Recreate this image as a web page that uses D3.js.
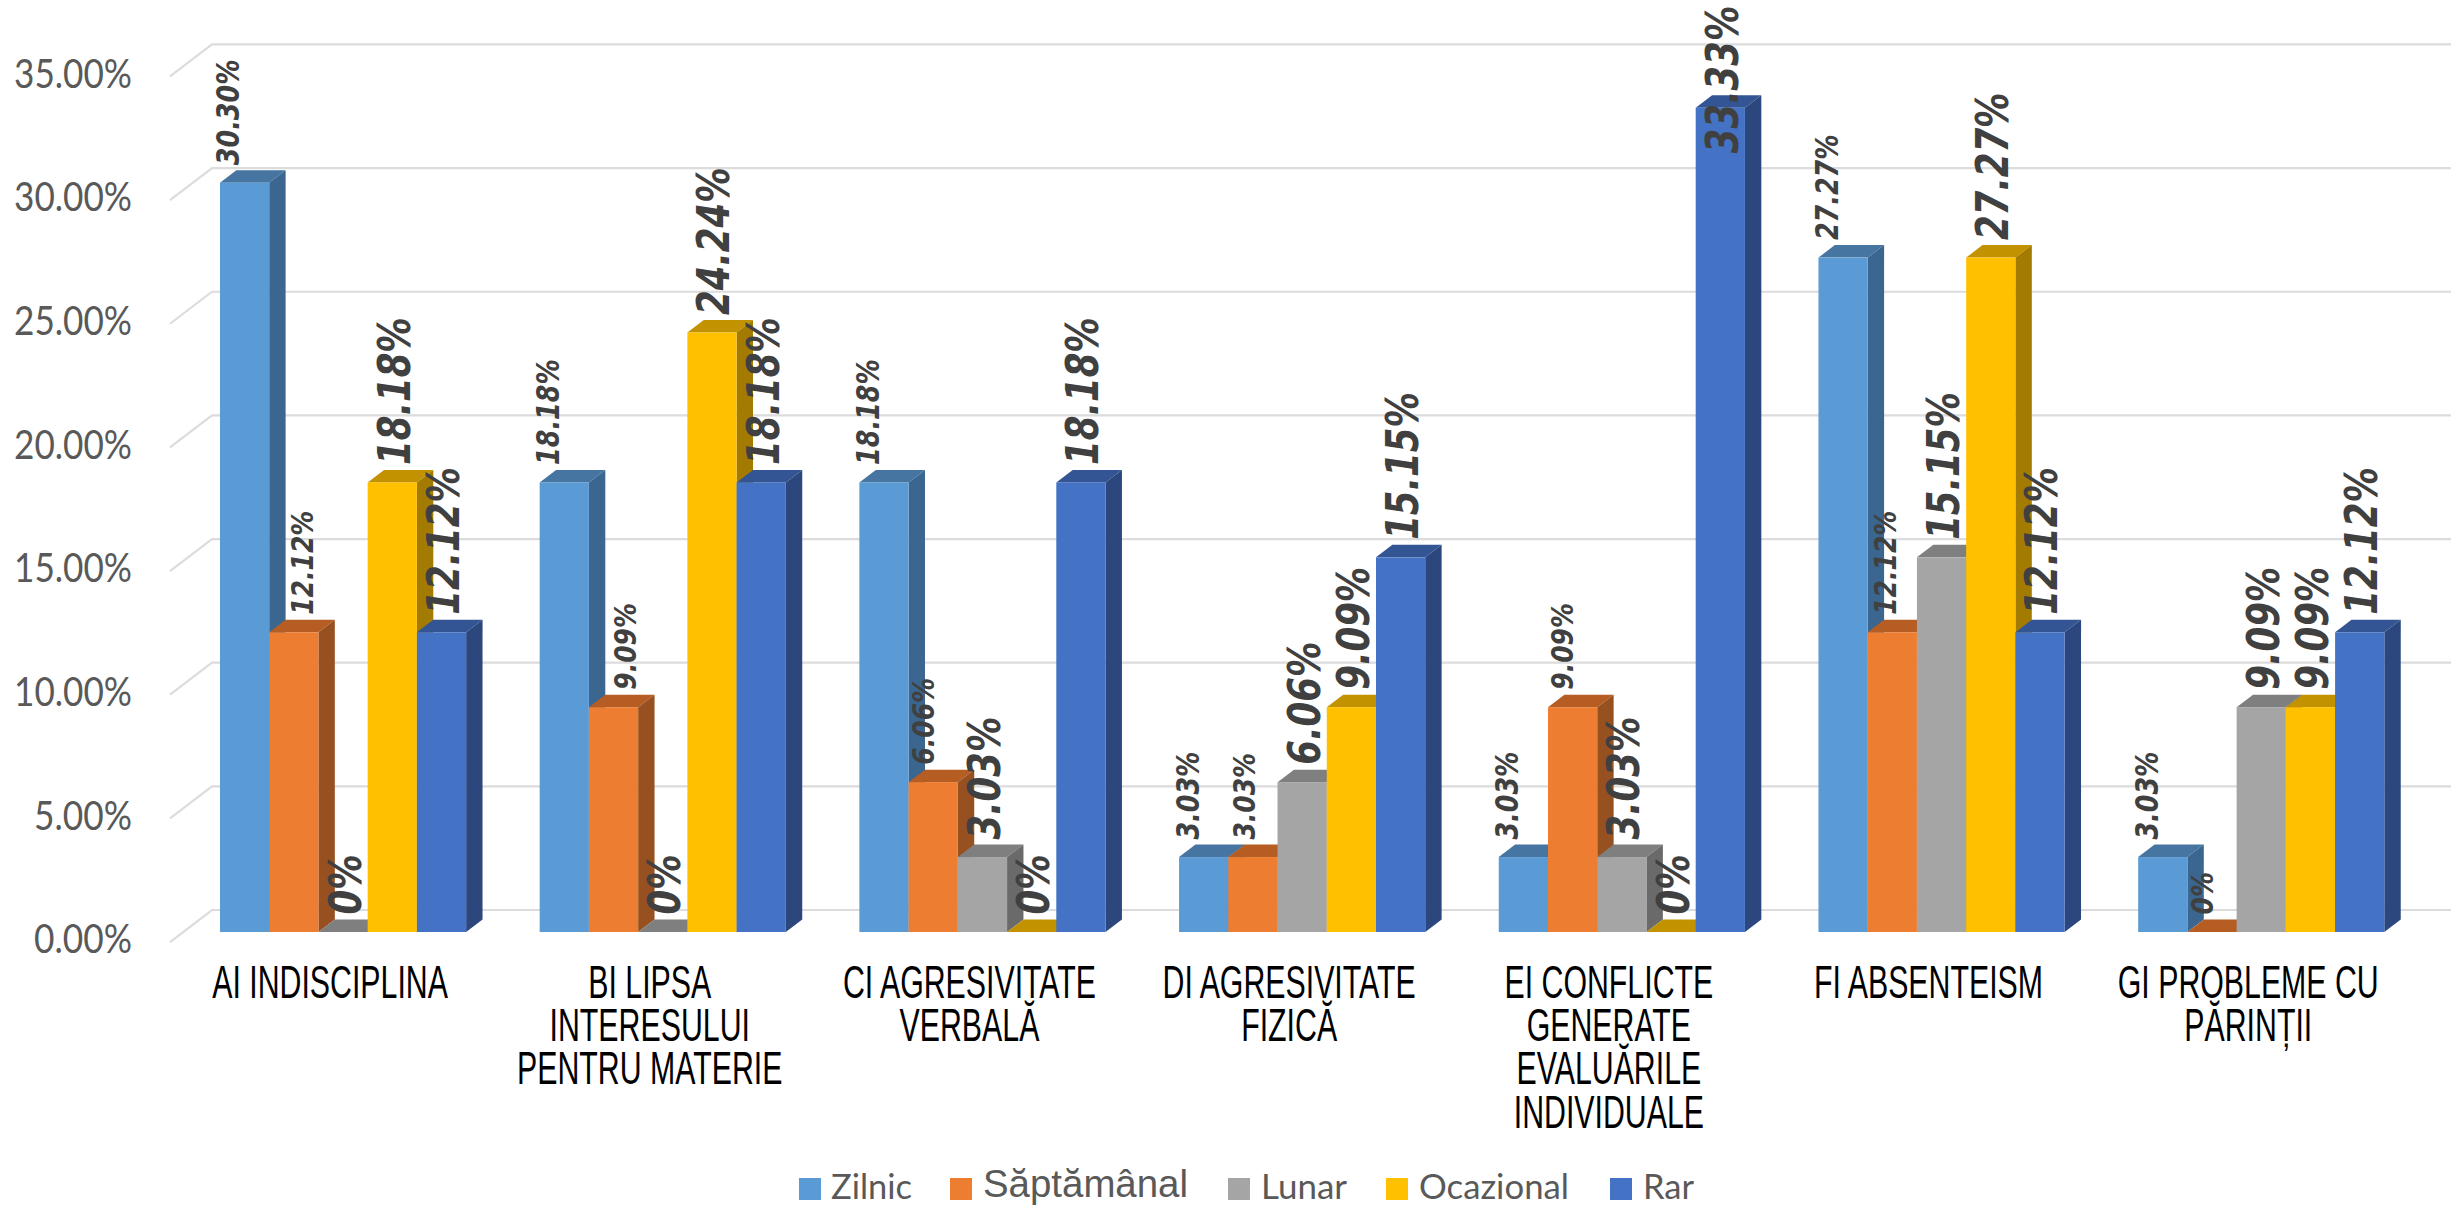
<!DOCTYPE html>
<html><head><meta charset="utf-8">
<script src="https://cdn.jsdelivr.net/npm/d3@7"></script>
<style>
html,body{margin:0;padding:0;background:#fff;overflow:hidden}
svg{display:block}
</style></head><body>
<svg id="c" width="2461" height="1205"></svg>
<script>
// ---- data ----
const categories = ["AI","BI","CI","DI","EI","FI","GI"];
const categoryLines = [
  ["AI INDISCIPLINA"],
  ["BI LIPSA","INTERESULUI","PENTRU MATERIE"],
  ["CI AGRESIVITATE","VERBALĂ"],
  ["DI AGRESIVITATE","FIZICĂ"],
  ["EI CONFLICTE","GENERATE","EVALUĂRILE","INDIVIDUALE"],
  ["FI ABSENTEISM"],
  ["GI PROBLEME CU","PĂRINȚII"]
];
const seriesNames = ["Zilnic","Săptămânal","Lunar","Ocazional","Rar"];
const zilnic     = [30.30,18.18,18.18, 3.03, 3.03,27.27, 3.03];
const saptamanal = [12.12, 9.09, 6.06, 3.03, 9.09,12.12, 0];
const lunar      = [ 0,    0,    3.03, 6.06, 3.03,15.15, 9.09];
const ocazional  = [18.18,24.24, 0,    9.09, 0,   27.27, 9.09];
const rar        = [12.12,18.18,18.18,15.15,33.33,12.12,12.12];
const seriesValues = [zilnic,saptamanal,lunar,ocazional,rar];
const tickValues = [0,5,10,15,20,25,30,35];

// ---- styling ----
const frontColors = ["#5B9BD5","#ED7D31","#A5A5A5","#FFC000","#4472C4"];
const sideColors  = ["#3A6690","#97501F","#6A6A6A","#A37B00","#2B477D"];
const topColors   = ["#4675A1","#B55D23","#7F7F7F","#C29200","#335594"];
const labelSizes  = [25.4,25,35.5,35.5,35.5];
const labelCentre = [8,null,26,26,26];              // label centre relative to bar's left edge
const saptCentre  = [32,36,14,15,14,17,14];         // the hand-moved Săptămânal labels
const labelStretch = 1.24;
const depthX = 16.4, depthY = 12.5;
const backX = 42, backY = 22, tickDropY = 10;

// ---- scales ----
const svg = d3.select("#c");
const y = d3.scaleLinear().domain([0,35]).range([932,932-35*24.73]);
const x0 = d3.scaleBand().domain(categories).range([183.2,2421.1]).paddingInner(0.23).paddingOuter(0.115);
const x1 = d3.scaleBand().domain(seriesNames).range([0,x0.bandwidth()]);
const plotLeft = 170, plotRight = 2451;

// ---- gridlines ----
const grid = svg.append("g").attr("fill","none").attr("stroke","#DCDCDC").attr("stroke-width",2.2);
grid.selectAll("path").data(tickValues).join("path")
  .attr("d",v=>`M${plotLeft},${y(v)+tickDropY}L${plotLeft+backX},${y(v)-backY}L${plotRight},${y(v)-backY}`);

// ---- y axis labels ----
const axis = d3.axisLeft(y).tickValues(tickValues).tickSize(0).tickPadding(0).tickFormat(v=>v.toFixed(2)+"%");
const axisG = svg.append("g").attr("transform","translate(132,8)").call(axis);
axisG.select(".domain").remove();
axisG.selectAll("text")
  .attr("font-family","Lato, 'Open Sans', sans-serif").attr("font-size",40).attr("fill","#595959")
  .attr("textLength",v=>v<10?98:118).attr("lengthAdjust","spacingAndGlyphs");

// ---- bars ----
const bars = svg.append("g");
categories.forEach((c,ci)=>{
  seriesNames.forEach((s,si)=>{
    const v = seriesValues[si][ci];
    const l = x0(c)+x1(s), w = x1.bandwidth(), t = y(v), b = y(0);
    const g = bars.append("g");
    g.append("path").attr("fill",topColors[si])
      .attr("d",`M${l},${t}L${l+depthX},${t-depthY}L${l+w+depthX},${t-depthY}L${l+w},${t}Z`);
    if(v>0){
      g.append("path").attr("fill",sideColors[si])
        .attr("d",`M${l+w},${t}L${l+w+depthX},${t-depthY}L${l+w+depthX},${b-depthY}L${l+w},${b}Z`);
      g.append("rect").attr("x",l).attr("y",t).attr("width",w).attr("height",b-t).attr("fill",frontColors[si]);
    }
  });
});

// ---- value labels ----
const labels = svg.append("g").attr("fill","#404040")
  .attr("font-family","'DejaVu Sans', sans-serif").attr("font-weight","bold").attr("font-style","italic");
categories.forEach((c,ci)=>{
  seriesNames.forEach((s,si)=>{
    const v = seriesValues[si][ci];
    const size = labelSizes[si];
    const centre = si===1 ? saptCentre[ci] : labelCentre[si];
    const bx = x0(c)+x1(s)+centre+0.73*size*labelStretch/2;
    let by = y(v)-depthY-5;
    if(v===33.33) by += 63;   // pushed down to stay inside the picture
    labels.append("text").attr("font-size",size)
      .attr("transform",`translate(${bx},${by}) rotate(-90) scale(1,${labelStretch})`)
      .text(v===0?"0%":v.toFixed(2)+"%");
  });
});

// ---- category labels ----
const catG = svg.append("g").attr("fill","#000").attr("font-family","'Liberation Sans', Arial, sans-serif")
  .attr("font-size",47).attr("text-anchor","middle");
categories.forEach((c,ci)=>{
  const cx = x0(c)+x0.bandwidth()/2-13;
  categoryLines[ci].forEach((line,li)=>{
    catG.append("text").attr("transform",`translate(${cx},${998+li*43.2}) scale(0.645,1)`).text(line);
  });
});

// ---- legend ----
const legendSwatchX = [799,950,1228,1386,1610];
const legendTextX   = [831,983,1261,1419,1643];
const legendTextW   = [81,205,86,150,51];
const legendFonts   = ["Lato","'Liberation Sans'","Lato","Lato","Lato"];
const legendSizes   = [35,38,35,35,35];
const legendBase    = [1199,1197,1199,1199,1199];
const legend = svg.append("g");
seriesNames.forEach((s,i)=>{
  legend.append("rect").attr("x",legendSwatchX[i]).attr("y",1178).attr("width",22).attr("height",22).attr("fill",frontColors[i]);
  legend.append("text").attr("x",legendTextX[i]).attr("y",legendBase[i])
    .attr("font-family",legendFonts[i]).attr("font-size",legendSizes[i]).attr("fill","#595959")
    .attr("textLength",legendTextW[i]).attr("lengthAdjust","spacingAndGlyphs").text(s);
});
</script>
</body></html>
